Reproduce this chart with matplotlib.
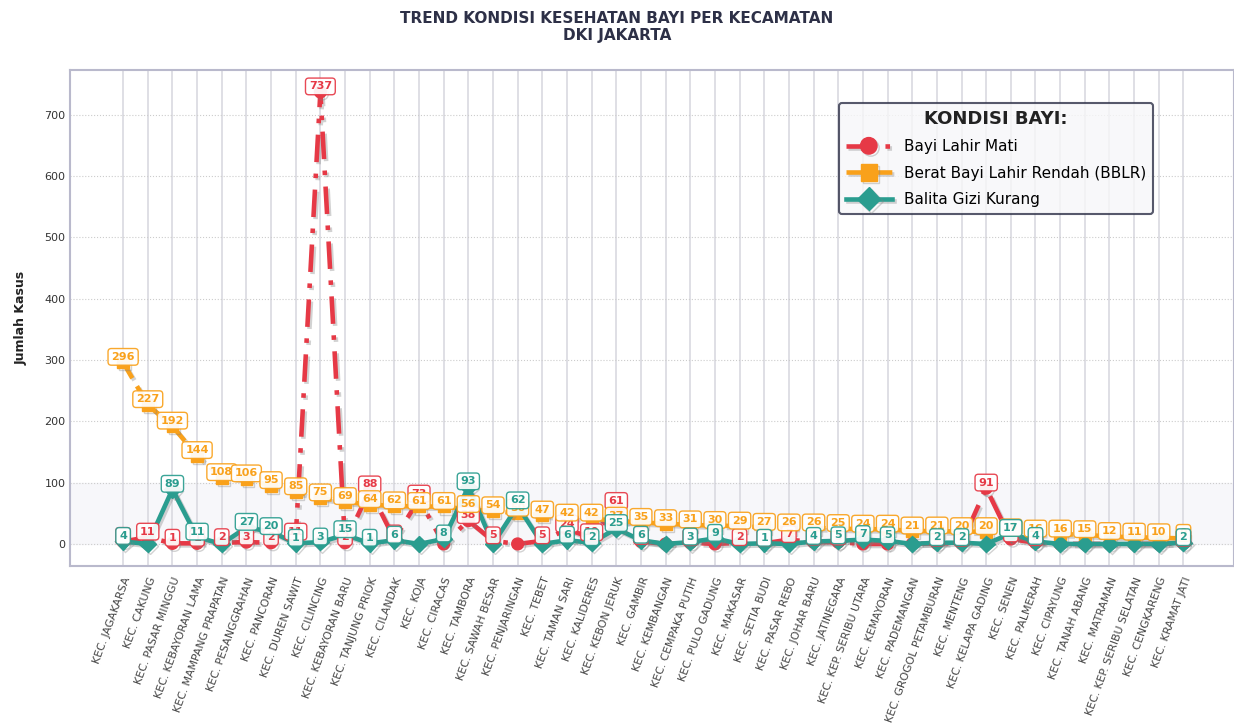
import matplotlib
matplotlib.use("Agg")
import matplotlib.pyplot as plt
import matplotlib.patheffects as pe
import numpy as np

kecamatan = [
    "KEC. JAGAKARSA", "KEC. CAKUNG", "KEC. PASAR MINGGU", "KEC. KEBAYORAN LAMA",
    "KEC. MAMPANG PRAPATAN", "KEC. PESANGGRAHAN", "KEC. PANCORAN", "KEC. DUREN SAWIT",
    "KEC. CILINCING", "KEC. KEBAYORAN BARU", "KEC. TANJUNG PRIOK", "KEC. CILANDAK",
    "KEC. KOJA", "KEC. CIRACAS", "KEC. TAMBORA", "KEC. SAWAH BESAR",
    "KEC. PENJARINGAN", "KEC. TEBET", "KEC. TAMAN SARI", "KEC. KALIDERES",
    "KEC. KEBON JERUK", "KEC. GAMBIR", "KEC. KEMBANGAN", "KEC. CEMPAKA PUTIH",
    "KEC. PULO GADUNG", "KEC. MAKASAR", "KEC. SETIA BUDI", "KEC. PASAR REBO",
    "KEC. JOHAR BARU", "KEC. JATINEGARA", "KEC. KEP. SERIBU UTARA", "KEC. KEMAYORAN",
    "KEC. PADEMANGAN", "KEC. GROGOL PETAMBURAN", "KEC. MENTENG", "KEC. KELAPA GADING",
    "KEC. SENEN", "KEC. PALMERAH", "KEC. CIPAYUNG", "KEC. TANAH ABANG",
    "KEC. MATRAMAN", "KEC. KEP. SERIBU SELATAN", "KEC. CENGKARENG", "KEC. KRAMAT JATI",
]

bayi_lahir_mati = [
    4, 11, 1, 1, 2, 3, 2, 11, 737, 2, 88, 8, 73, 0, 38, 5,
    0, 5, 24, 10, 61, 4, 0, 2, 0, 2, 1, 7, 3, 3, 0, 0,
    0, 1, 1, 91, 8, 2, 0, 0, 0, 0, 0, 1,
]

bblr = [
    296, 227, 192, 144, 108, 106, 95, 85, 75, 69, 64, 62, 61, 61, 56, 54,
    50, 47, 42, 42, 37, 35, 33, 31, 30, 29, 27, 26, 26, 25, 24, 24,
    21, 21, 20, 20, 18, 16, 16, 15, 12, 11, 10, 9,
]

balita_gizi_kurang = [
    4, 0, 89, 11, 0, 27, 20, 1, 3, 15, 1, 6, 0, 8, 93, 0,
    62, 0, 6, 2, 25, 6, 0, 3, 9, 0, 1, 0, 4, 5, 7, 5,
    0, 2, 2, 0, 17, 4, 0, 0, 0, 0, 0, 2,
]

series = [
    ("Bayi Lahir Mati", bayi_lahir_mati, "#e63946", (0, (6, 2.5, 1, 2.5)), "o"),
    ("Berat Bayi Lahir Rendah (BBLR)", bblr, "#f9a11b", (0, (4, 2)), "s"),
    ("Balita Gizi Kurang", balita_gizi_kurang, "#2a9d8f", "-", "D"),
]

fig = plt.figure(figsize=(12.34, 7.28), dpi=100)
ax = fig.add_axes([0.057, 0.2225, 0.943, 0.6815])

x = np.arange(len(kecamatan))
ax.axhspan(0, 100, color="#f3f3f7", alpha=0.6, zorder=0)

shadow = [pe.SimpleLineShadow(offset=(1.5, -1.5), shadow_color="gray", alpha=0.35),
          pe.Normal()]

for i, (name, vals, color, ls, mk) in enumerate(series):
    ax.plot(x, vals, linestyle=ls, color=color, linewidth=3.3, marker=mk,
            markersize=8.5, label=name, zorder=3 + i, path_effects=shadow)
    for xi, v in zip(x, vals):
        if v > 0:
            ax.annotate(str(v), (xi, v), xytext=(0, 4), textcoords="offset points",
                        ha="center", va="center", fontsize=8, fontweight="bold",
                        color=color, zorder=10 + i,
                        bbox=dict(boxstyle="round,pad=0.3", fc="white", ec=color,
                                  lw=1, alpha=0.92))

ax.set_xlim(-2.14, 45.05)
ax.set_ylim(-36, 773)
ax.set_xticks(x)
ax.set_xticklabels(kecamatan, rotation=70, ha="right", rotation_mode="anchor",
                   fontsize=7.8, color="#444444")
ax.set_yticks(np.arange(0, 701, 100))
ax.tick_params(axis="y", labelsize=8, colors="#333333", length=0)
ax.tick_params(axis="x", length=0, pad=7)

ax.grid(axis="x", color="#d9d9e0", linewidth=1.2, linestyle="-", zorder=0)
ax.grid(axis="y", color="#cccccc", linewidth=0.8, linestyle=":", zorder=0)
ax.set_axisbelow(True)
for s in ax.spines.values():
    s.set_color("#b9b9cc")
    s.set_linewidth(1.5)

ax.set_ylabel("Jumlah Kasus", fontsize=9, fontweight="bold", color="#222222", labelpad=12)
fig.suptitle("TREND KONDISI KESEHATAN BAYI PER KECAMATAN\nDKI JAKARTA",
             fontsize=11, fontweight="bold", color="#2d3047", y=0.985)

leg = ax.legend(title="KONDISI BAYI:", loc="upper right", bbox_to_anchor=(0.937, 0.949),
                fontsize=11, title_fontproperties={"size": 13, "weight": "bold"},
                frameon=True, fancybox=True, facecolor="#f7f7f9", edgecolor="#2d3047",
                handlelength=3, borderpad=0.45, labelspacing=0.75, markerscale=1.4)
leg.get_frame().set_linewidth(1.5)
leg.get_title().set_color("#222222")

fig.savefig("out.png", dpi=100, facecolor="white")
